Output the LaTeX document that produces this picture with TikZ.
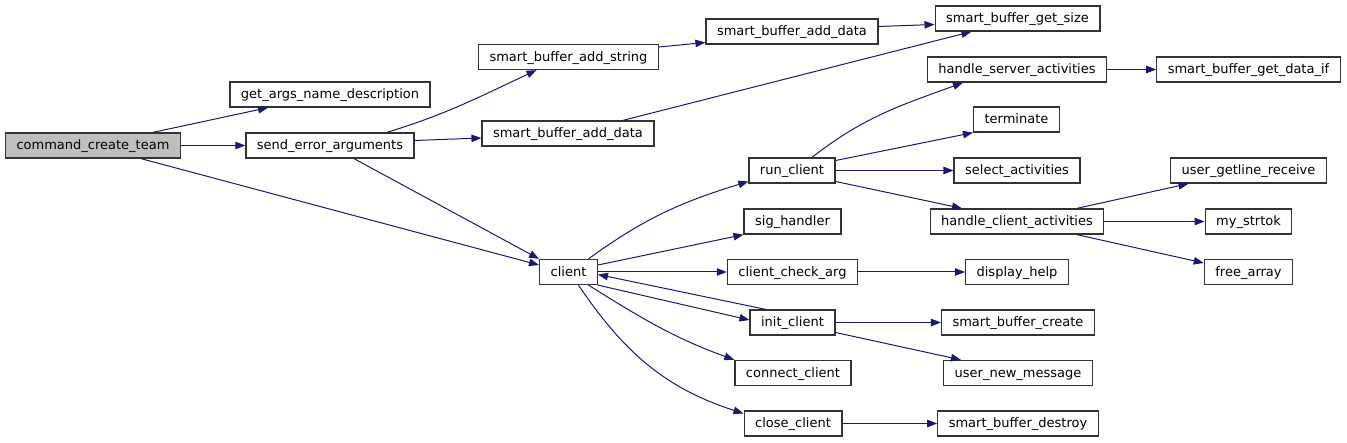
\documentclass[tikz,border=0pt]{standalone}
\usepackage{fontspec}
\setmainfont{DejaVu Sans}
\usepackage{tikz}
\usetikzlibrary{arrows.meta}
\definecolor{CGedge}{RGB}{25,25,112}
\definecolor{CGroot}{RGB}{191,191,191}
\definecolor{CGline}{RGB}{50,50,50}

\begin{document}
\begin{tikzpicture}[
  x=1pt,y=1pt,
  fn/.style={rectangle,draw=CGline,fill=white,line width=1.3pt,minimum height=25pt,inner xsep=11pt,inner ysep=0pt,text height=10pt,text depth=1pt,font=\fontsize{13}{15}\selectfont},
  root/.style={fn,fill=CGroot},
  arr/.style={-{Triangle[length=10pt,width=7.5pt]},line width=1pt,draw=CGedge},
]
\useasboundingbox (0,0) rectangle (1347,-443);

% Nivel 0-1
\node[root] (cmd) at (93,-145.5) {command\_create\_team};
\node[fn] (args) at (330,-94.5) {get\_args\_name\_description};
\node[fn] (senderr) at (330,-145.5) {send\_error\_arguments};

% Nivel 2
\node[fn] (addstr) at (568.5,-57) {smart\_buffer\_add\_string};
\node[fn] (adddatab) at (568,-133.5) {smart\_buffer\_add\_data};
\node[fn] (client) at (568.5,-272) {client};

% Nivel 3
\node[fn] (adddata) at (792,-31.5) {smart\_buffer\_add\_data};
\node[fn] (runc) at (792,-170.5) {run\_client};
\node[fn] (sig) at (792.5,-221.5) {sig\_handler};
\node[fn] (chkarg) at (792.5,-272) {client\_check\_arg};
\node[fn] (initc) at (792.5,-322.5) {init\_client};
\node[fn] (connc) at (793,-373) {connect\_client};
\node[fn] (closec) at (793,-423.5) {close\_client};

% Nivel 4
\node[fn] (getsize) at (1017.5,-18.5) {smart\_buffer\_get\_size};
\node[fn] (hserv) at (1017,-69.5) {handle\_server\_activities};
\node[fn] (term) at (1016.5,-119.5) {terminate};
\node[fn] (selact) at (1017,-170.5) {select\_activities};
\node[fn] (hcli) at (1017,-221.5) {handle\_client\_activities};
\node[fn] (help) at (1017,-272) {display\_help};
\node[fn] (bufcreate) at (1018,-322.5) {smart\_buffer\_create};
\node[fn] (newmsg) at (1018,-373) {user\_new\_message};
\node[fn] (bufdestroy) at (1018,-423.5) {smart\_buffer\_destroy};

% Nivel 5
\node[fn] (getdata) at (1248.5,-69.5) {smart\_buffer\_get\_data\_if};
\node[fn] (getline) at (1248.5,-170.5) {user\_getline\_receive};
\node[fn] (strtok) at (1248.5,-221.5) {my\_strtok};
\node[fn] (freearr) at (1248.5,-272) {free\_array};

% Llamadas
\draw[arr] ([xshift=60pt]cmd.north) -- ([xshift=-62pt]args.south);
\draw[arr] (cmd) -- (senderr);
\draw[arr] ([xshift=48pt]cmd.south) -- ([yshift=7pt]client.west);
\draw[arr] ([xshift=57pt]senderr.north) to[out=17,in=205] ([xshift=-32pt]addstr.south);
\draw[arr] ([yshift=5pt]senderr.east) -- ([yshift=-4.5pt]adddatab.west);
\draw[arr] ([xshift=24pt]senderr.south) -- (client.north west);
\draw[arr] ([yshift=10pt]addstr.east) -- ([yshift=-11pt]adddata.west);
\draw[arr] ([yshift=5pt]adddata.east) -- ([yshift=-6pt]getsize.west);
\draw[arr] ([xshift=55pt]adddatab.north) -- ([xshift=-46pt]getsize.south);
\draw[arr] ([xshift=20pt]client.north) to[out=36,in=197] ([yshift=-11pt]runc.west);
\draw[arr] ([yshift=7pt]client.east) -- (sig.south west);
\draw[arr] (client) -- (chkarg);
\draw[arr] ([xshift=-27pt]initc.north) -- ([yshift=-2.5pt]client.east);
\draw[arr] (client.south east) -- ([yshift=2.5pt]initc.west);
\draw[arr] ([xshift=20pt]client.south) to[out=-32,in=160] (connc.north west);
\draw[arr] ([xshift=10pt]client.south) to[out=-56,in=162] ([yshift=10pt]closec.west);
\draw[arr] ([xshift=20pt]runc.north) to[out=38,in=200] ([xshift=-54pt]hserv.south);
\draw[arr] ([yshift=10pt]runc.east) -- (term.south west);
\draw[arr] (runc) -- (selact);
\draw[arr] ([yshift=-11pt]runc.east) -- ([xshift=-55pt]hcli.north);
\draw[arr] (hserv) -- (getdata);
\draw[arr] ([xshift=60pt]hcli.north) -- ([xshift=-60pt]getline.south);
\draw[arr] (hcli) -- (strtok);
\draw[arr] ([xshift=60pt]hcli.south) -- ([yshift=9pt]freearr.west);
\draw[arr] (chkarg) -- (help);
\draw[arr] (initc) -- (bufcreate);
\draw[arr] ([yshift=-10pt]initc.east) -- ([xshift=-57pt]newmsg.north);
\draw[arr] (closec) -- (bufdestroy);

\end{tikzpicture}
\end{document}
